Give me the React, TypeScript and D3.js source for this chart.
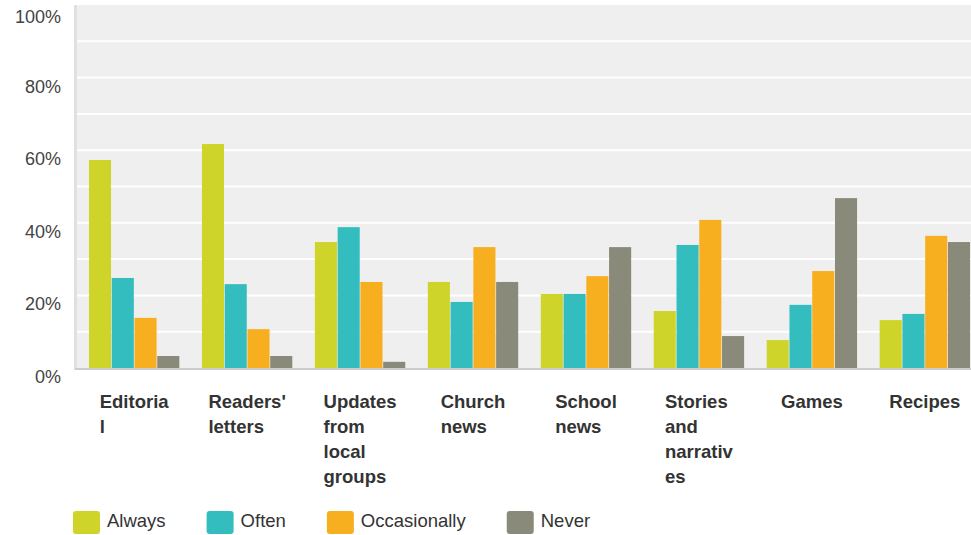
import React, { useRef, useEffect } from 'react';
import * as d3 from 'd3';

// categories, with their label lines as wrapped in the reference
const categories = ['Editorial', "Readers' letters", 'Updates from local groups', 'Church news', 'School news', 'Stories and narratives', 'Games', 'Recipes'];
const categoryLines = [
    ['Editoria', 'l'],
    ["Readers'", 'letters'],
    ['Updates', 'from', 'local', 'groups'],
    ['Church', 'news'],
    ['School', 'news'],
    ['Stories', 'and', 'narrativ', 'es'],
    ['Games'],
    ['Recipes'],
];

const seriesNames = ['Always', 'Often', 'Occasionally', 'Never'];
const seriesColors = ['#cfd42a', '#33bdbe', '#f7ae1f', '#8a8a7a'];

const always = [57.3, 61.7, 34.7, 23.7, 20.4, 15.7, 7.7, 13.2];
const often = [24.8, 23.1, 38.8, 18.2, 20.4, 33.9, 17.4, 14.9];
const occasionally = [13.8, 10.7, 23.7, 33.3, 25.3, 40.8, 26.7, 36.4];
const never = [3.3, 3.3, 1.7, 23.7, 33.3, 8.8, 46.8, 34.7];

const seriesValues = [always, often, occasionally, never];

const yTickLabels = [0, 20, 40, 60, 80, 100];
const gridTicks = [10, 20, 30, 40, 50, 60, 70, 80, 90];

const App: React.FC = () => {
    const svgRef = useRef<SVGSVGElement>(null);

    useEffect(() => {
        const width = 971;
        const height = 535;
        const margin = { top: 5, left: 77, bottom: 167 };
        const plotRight = 982;
        const font = '"Liberation Sans", Arial, sans-serif';

        const svg = d3.select(svgRef.current);
        svg.selectAll('*').remove();
        svg.attr('width', width).attr('height', height);

        const yScale = d3.scaleLinear()
            .domain([0, 100])
            .range([height - margin.bottom, margin.top]);

        const xScale = d3.scaleBand<string>()
            .domain(categories)
            .range([margin.left, plotRight])
            .paddingInner(0.2)
            .paddingOuter(0.106);

        const xInner = d3.scaleBand<string>()
            .domain(seriesNames)
            .range([0, xScale.bandwidth()])
            .paddingInner(0.03);

        // plot background
        svg.append('rect')
            .attr('x', margin.left)
            .attr('y', yScale(100))
            .attr('width', plotRight - margin.left)
            .attr('height', yScale(0) - yScale(100))
            .attr('fill', '#efefef');

        // left border
        svg.append('rect')
            .attr('x', margin.left - 3)
            .attr('y', yScale(100))
            .attr('width', 3)
            .attr('height', yScale(0) - yScale(100) + 2)
            .attr('fill', '#e0e0e0');

        // gridlines
        svg.append('g')
            .selectAll('line')
            .data(gridTicks)
            .join('line')
            .attr('x1', margin.left)
            .attr('x2', plotRight)
            .attr('y1', d => yScale(d))
            .attr('y2', d => yScale(d))
            .attr('stroke', '#ffffff')
            .attr('stroke-width', 2);

        // y labels
        svg.append('g')
            .selectAll('text')
            .data(yTickLabels)
            .join('text')
            .attr('x', 61)
            .attr('y', d => Math.max(yScale(d) + 15, 23))
            .attr('text-anchor', 'end')
            .attr('font-family', font)
            .attr('font-size', 18)
            .attr('fill', '#444')
            .text(d => `${d}%`);

        // bars
        const groups = svg.append('g')
            .selectAll('g')
            .data(categories)
            .join('g')
            .attr('transform', d => `translate(${xScale(d)},0)`);

        groups.selectAll('rect')
            .data((_, i) => seriesNames.map((s, j) => ({ s, v: seriesValues[j][i], c: seriesColors[j] })))
            .join('rect')
            .attr('x', d => xInner(d.s) || 0)
            .attr('y', d => yScale(d.v))
            .attr('width', xInner.bandwidth())
            .attr('height', d => yScale(0) - yScale(d.v))
            .attr('fill', d => d.c);

        // baseline
        svg.append('line')
            .attr('x1', margin.left - 2)
            .attr('x2', plotRight)
            .attr('y1', yScale(0) + 1)
            .attr('y2', yScale(0) + 1)
            .attr('stroke', '#cccccc')
            .attr('stroke-width', 2);

        // category labels: block centred under the group, lines left aligned
        categories.forEach((c, i) => {
            const g = svg.append('g');
            const texts = categoryLines[i].map((line, k) =>
                g.append('text')
                    .attr('y', 408 + k * 25)
                    .attr('font-family', font)
                    .attr('font-size', 18.5)
                    .attr('font-weight', 'bold')
                    .attr('fill', '#333')
                    .text(line)
            );
            const maxW = d3.max(texts, t => (t.node() as SVGTextElement).getComputedTextLength()) || 0;
            const cx = (xScale(c) || 0) + xScale.bandwidth() / 2;
            texts.forEach(t => t.attr('x', cx - maxW / 2));
        });

        // legend
        let lx = 73;
        seriesNames.forEach((s, j) => {
            svg.append('rect')
                .attr('x', lx)
                .attr('y', 511)
                .attr('width', 27)
                .attr('height', 23)
                .attr('rx', 3)
                .attr('fill', seriesColors[j]);
            const t = svg.append('text')
                .attr('x', lx + 34)
                .attr('y', 527)
                .attr('font-family', font)
                .attr('font-size', 18.5)
                .attr('fill', '#333')
                .text(s);
            lx += 34 + (t.node() as SVGTextElement).getComputedTextLength() + 41;
        });
    }, []);

    return (
        <div style={{ position: 'absolute', left: 0, top: 0 }}>
            <svg ref={svgRef} style={{ display: 'block' }}></svg>
        </div>
    );
};

export default App;
